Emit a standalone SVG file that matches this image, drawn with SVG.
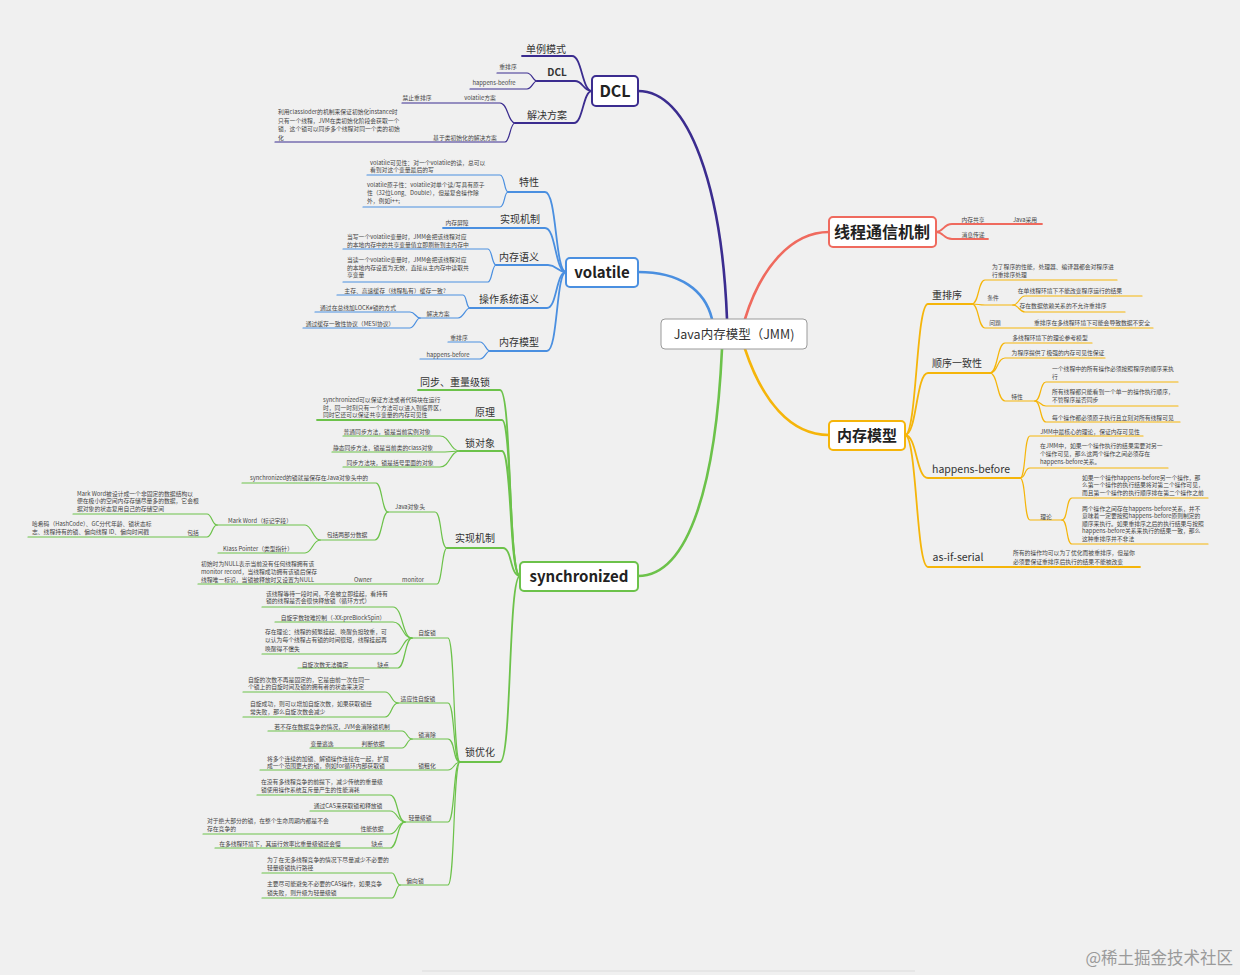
<svg xmlns="http://www.w3.org/2000/svg" width="1240" height="975" viewBox="0 0 1240 975">
<style>
text{font-family:"Noto Sans CJK SC","Noto Sans",sans-serif;}
.t1{font-size:15px;font-weight:bold;fill:#222;text-anchor:middle}
.t2{font-size:10px;fill:#333;text-anchor:middle}
.t3{font-size:5.8px;fill:#444}
.c{text-anchor:middle}
.box{fill:#fff;stroke-width:2}
path{fill:none;stroke-linecap:round}
.l1{stroke-width:2.6}
.l2{stroke-width:1.8}
.l3{stroke-width:1.2}
.pu{stroke:#3b2c8f}.bl{stroke:#4a8fe0}.rd{stroke:#ef6a5e}.or{stroke:#f5b50a}.gr{stroke:#6cc24a}
</style>
<rect width="1240" height="975" fill="#f0f0f0"/>
<line x1="422" y1="971" x2="915" y2="971" stroke="#dcdcdc" stroke-width="1"/>
<g id="connectors">
<path class="l1 pu" d="M727 319 C722 190 690 91 638 91"/>
<path class="l1 bl" d="M712 319 C705 290 680 272 638 272"/>
<path class="l1 rd" d="M745 319 C760 270 790 232 829 232"/>
<path class="l1 or" d="M745 349 C762 400 790 435 829 435"/>
<path class="l1 gr" d="M722 349 C716 480 690 576 638 576"/>
<g class="pu">
<path class="l2" d="M522 56 H572 C582 56 582 91 592 91"/>
<path class="l2" d="M537 81 H575 C583 81 583 91 592 91"/>
<path class="l2" d="M515 123 H574 C583 123 583 91 592 91"/>
<path class="l3" d="M497 73 H527 C532 73 533 81 537 81"/>
<path class="l3" d="M470 89 H527 C532 89 533 81 537 81"/>
<path class="l3" d="M402 103 H500 C508 103 508 123 515 123"/>
<path class="l3" d="M275 142 H505 C510 142 510 123 515 123"/>
</g>
<g class="bl">
<path class="l2" d="M508 192 H545 C557 192 555 272 566 272"/>
<path class="l2" d="M443 228 H545 C556 228 555 272 566 272"/>
<path class="l2" d="M496 265 H548 C557 265 557 272 566 272"/>
<path class="l2" d="M470 308 H547 C557 308 556 272 566 272"/>
<path class="l2" d="M490 351 H547 C558 351 556 272 566 272"/>
<path class="l3" d="M367 175 H500 C505 175 504 192 508 192"/>
<path class="l3" d="M363 207 H500 C505 207 504 192 508 192"/>
<path class="l3" d="M343 249 H488 C492 249 492 265 496 265"/>
<path class="l3" d="M343 282 H488 C492 282 492 265 496 265"/>
<path class="l3" d="M337 295 H463 C467 295 466 308 470 308"/>
<path class="l3" d="M420 318 H458 C464 318 465 308 470 308"/>
<path class="l3" d="M315 312 H410 C415 312 416 318 420 318"/>
<path class="l3" d="M303 328 H410 C415 328 416 318 420 318"/>
<path class="l3" d="M448 342 H480 C485 342 486 351 490 351"/>
<path class="l3" d="M420 359 H480 C485 359 486 351 490 351"/>
</g>
<g class="rd">
<path class="l2" d="M936 232 C944 232 943 224 952 224 H1042"/>
<path class="l2" d="M936 232 C944 232 943 239 952 239 H988"/>
</g>
<g class="or">
<path class="l2" d="M905 435 C917 435 916 304 928 304 H972"/>
<path class="l2" d="M905 435 C917 435 916 373 928 373 H990"/>
<path class="l2" d="M905 435 C917 435 916 478 928 478 H1020"/>
<path class="l2" d="M905 435 C917 435 916 567 928 567 H1140"/>
<path class="l3" d="M972 304 C979 304 978 280 985 280 H1117"/>
<path class="l3" d="M972 304 C979 304 978 305 985 305 H1013"/>
<path class="l3" d="M972 304 C979 304 978 328 985 328 H1153"/>
<path class="l3" d="M1013 305 C1019 305 1019 296 1025 296 H1142"/>
<path class="l3" d="M1013 305 C1019 305 1019 312 1025 312 H1125"/>
<path class="l3" d="M990 373 C998 373 997 343 1005 343 H1092"/>
<path class="l3" d="M990 373 C998 373 997 358 1005 358 H1105"/>
<path class="l3" d="M990 373 C998 373 997 401 1005 401 H1035"/>
<path class="l3" d="M1035 401 C1041 401 1040 382 1046 382 H1178"/>
<path class="l3" d="M1035 401 C1041 401 1040 406 1046 406 H1178"/>
<path class="l3" d="M1035 401 C1041 401 1040 422 1046 422 H1180"/>
<path class="l3" d="M1020 478 C1026 478 1024 436 1030 436 H1143"/>
<path class="l3" d="M1020 478 C1026 478 1024 468 1030 468 H1168"/>
<path class="l3" d="M1020 478 C1026 478 1024 520 1030 520 H1062"/>
<path class="l3" d="M1062 520 C1068 520 1066 498 1072 498 H1208"/>
<path class="l3" d="M1062 520 C1068 520 1066 544 1072 544 H1208"/>
</g>
<g class="gr">
<path class="l2" d="M418 390 H500 C512 390 508 576 520 576"/>
<path class="l2" d="M317 420 H502 C512 420 509 576 520 576"/>
<path class="l2" d="M460 451 H502 C512 451 509 576 520 576"/>
<path class="l2" d="M447 548 H503 C512 548 510 576 520 576"/>
<path class="l2" d="M460 762 H500 C512 762 508 576 520 576"/>
<path class="l3" d="M343 436 H440 C450 436 450 451 460 451"/>
<path class="l3" d="M332 452 H445 C452 452 452 451 460 451"/>
<path class="l3" d="M343 467 H440 C450 467 450 451 460 451"/>
<path class="l3" d="M388 512 H435 C442 512 440 548 447 548"/>
<path class="l3" d="M198 584 H437 C442 584 442 548 447 548"/>
<path class="l3" d="M242 483 H376 C382 483 382 512 388 512"/>
<path class="l3" d="M320 540 H375 C382 540 382 512 388 512"/>
<path class="l3" d="M217 525 H305 C312 525 313 540 320 540"/>
<path class="l3" d="M218 553 H305 C312 553 313 540 320 540"/>
<path class="l3" d="M73 514 H207 C212 514 212 525 217 525"/>
<path class="l3" d="M28 537 H207 C212 537 212 525 217 525"/>
<path class="l3" d="M412 638 H448 C455 638 453 762 460 762"/>
<path class="l3" d="M398 703 H448 C455 703 453 762 460 762"/>
<path class="l3" d="M412 739 H448 C455 739 453 762 460 762"/>
<path class="l3" d="M260 770 H448 C454 770 454 762 460 762"/>
<path class="l3" d="M405 822 H448 C455 822 453 762 460 762"/>
<path class="l3" d="M400 885 H448 C455 885 453 762 460 762"/>
<path class="l3" d="M262 607 H393 C403 607 402 638 412 638"/>
<path class="l3" d="M275 622 H393 C403 622 402 638 412 638"/>
<path class="l3" d="M262 654 H393 C403 654 402 638 412 638"/>
<path class="l3" d="M298 668 H398 C405 668 405 638 412 638"/>
<path class="l3" d="M243 692 H385 C392 692 391 703 398 703"/>
<path class="l3" d="M243 717 H385 C392 717 391 703 398 703"/>
<path class="l3" d="M268 731 H402 C407 731 407 739 412 739"/>
<path class="l3" d="M310 748 H402 C407 748 407 739 412 739"/>
<path class="l3" d="M257 795 H390 C398 795 397 822 405 822"/>
<path class="l3" d="M310 811 H390 C398 811 397 822 405 822"/>
<path class="l3" d="M203 834 H390 C398 834 397 822 405 822"/>
<path class="l3" d="M215 848 H390 C398 848 397 822 405 822"/>
<path class="l3" d="M262 873 H392 C396 873 396 885 400 885"/>
<path class="l3" d="M262 898 H392 C396 898 396 885 400 885"/>
</g>
</g>

<g id="n-center"><rect x="661" y="319" width="146" height="30" rx="4" fill="#fff" stroke="#9a9a9a" stroke-width="1"/><text x="734" y="338.5" class="c" style="font-size:12.5px;fill:#333">Java内存模型（JMM)</text></g>

<g id="n-dcl"><rect class="box" x="592" y="76" width="46" height="30" rx="4" stroke="#3b2c8f"/><text x="615" y="97" class="t1" style="font-size:16px">DCL</text></g>
<g id="n-dcl-singleton"><text x="546" y="52.5" class="t2">单例模式</text></g>
<g id="n-dcl-dcl"><text x="557" y="76" class="t2" style="font-weight:bold">DCL</text></g>
<g id="n-dcl-reorder"><text x="508" y="68.5" class="t3 c">重排序</text></g>
<g id="n-dcl-hb"><text x="494" y="85" class="t3 c">happens-beofre</text></g>
<g id="n-dcl-solution"><text x="547" y="118.5" class="t2">解决方案</text></g>
<g id="n-dcl-volatile"><text x="480" y="100" class="t3 c">volatile方案</text></g>
<g id="n-dcl-noreorder"><text x="417" y="100" class="t3 c">禁止重排序</text></g>
<g id="n-dcl-classinit"><text x="465" y="140" class="t3 c">基于类初始化的解决方案</text></g>
<g id="n-dcl-classloader"><text class="t3"><tspan x="278" y="114">利用classloder的机制来保证初始化instance时</tspan><tspan x="278" y="122.5">只有一个线程，JVM在类初始化阶段会获取一个</tspan><tspan x="278" y="131">锁，这个锁可以同步多个线程对同一个类的初始</tspan><tspan x="278" y="139.5">化</tspan></text></g>

<g id="n-volatile"><rect class="box" x="566" y="258" width="72" height="29" rx="4" stroke="#4a8fe0"/><text x="602" y="278" class="t1">volatile</text></g>
<g id="n-vol-feature"><text x="529" y="185.5" class="t2">特性</text></g>
<g id="n-vol-visible"><text class="t3"><tspan x="370" y="165.3">volatile可见性：对一个volatile的读，总可以</tspan><tspan x="370" y="172">看到对这个变量最后的写</tspan></text></g>
<g id="n-vol-atomic"><text class="t3"><tspan x="367" y="187">volatile原子性：volatile对单个读/写具有原子</tspan><tspan x="367" y="195">性（32位Long、Double），但是复合操作除</tspan><tspan x="367" y="203">外，例如i++;</tspan></text></g>
<g id="n-vol-impl"><text x="520" y="222.5" class="t2">实现机制</text></g>
<g id="n-vol-barrier"><text x="457" y="224.5" class="t3 c">内存屏障</text></g>
<g id="n-vol-semantic"><text x="519" y="260.5" class="t2">内存语义</text></g>
<g id="n-vol-write"><text class="t3"><tspan x="347" y="239.3">当写一个volatile变量时，JMM会把该线程对应</tspan><tspan x="347" y="246.5">的本地内存中的共享变量值立即刷新到主内存中</tspan></text></g>
<g id="n-vol-read"><text class="t3"><tspan x="347" y="262">当读一个volatile变量时，JMM会把该线程对应</tspan><tspan x="347" y="269.5">的本地内存设置为无效，直接从主内存中读取共</tspan><tspan x="347" y="277">享变量</tspan></text></g>
<g id="n-vol-os"><text x="509" y="302.5" class="t2">操作系统语义</text></g>
<g id="n-vol-cache"><text x="395" y="293" class="t3 c">主存、高速缓存（线程私有）缓存一致?</text></g>
<g id="n-vol-solve"><text x="438" y="316" class="t3 c">解决方案</text></g>
<g id="n-vol-lock"><text x="358" y="309.5" class="t3 c">通过在总线加LOCK#锁的方式</text></g>
<g id="n-vol-mesi"><text x="350" y="325.5" class="t3 c">通过缓存一致性协议（MESI协议）</text></g>
<g id="n-vol-model"><text x="519" y="345.5" class="t2">内存模型</text></g>
<g id="n-vol-reorder"><text x="459" y="340" class="t3 c">重排序</text></g>
<g id="n-vol-hb"><text x="448" y="356.5" class="t3 c">happens-before</text></g>

<g id="n-comm"><rect class="box" x="829" y="217" width="107" height="30" rx="4" stroke="#ef6a5e"/><text x="882" y="238" class="t1" style="font-size:16px">线程通信机制</text></g>
<g id="n-comm-share"><text x="973" y="221.5" class="t3 c">内存共享</text></g>
<g id="n-comm-java"><text x="1025" y="221.5" class="t3 c">Java采用</text></g>
<g id="n-comm-msg"><text x="973" y="236.5" class="t3 c">消息传递</text></g>

<g id="n-jmm"><rect class="box" x="829" y="421" width="76" height="29" rx="4" stroke="#f5b50a"/><text x="867" y="441" class="t1">内存模型</text></g>
<g id="n-jmm-reorder"><text x="947" y="298.5" class="t2">重排序</text></g>
<g id="n-jmm-reorder-why"><text class="t3"><tspan x="992" y="269">为了程序的性能，处理器、编译器都会对程序进</tspan><tspan x="992" y="277">行重排序处理</tspan></text></g>
<g id="n-jmm-cond"><text x="993" y="299.5" class="t3 c">条件</text></g>
<g id="n-jmm-cond1"><text x="1070" y="292.5" class="t3 c">在单线程环境下不能改变程序运行的结果</text></g>
<g id="n-jmm-cond2"><text x="1063" y="308" class="t3 c">存在数据依赖关系的不允许重排序</text></g>
<g id="n-jmm-problem"><text x="995" y="324.5" class="t3 c">问题</text></g>
<g id="n-jmm-problem1"><text x="1092" y="324.5" class="t3 c">重排序在多线程环境下可能会导致数据不安全</text></g>
<g id="n-jmm-seq"><text x="957" y="366.5" class="t2">顺序一致性</text></g>
<g id="n-jmm-seq1"><text x="1050" y="339.5" class="t3 c">多线程环境下的理论参考模型</text></g>
<g id="n-jmm-seq2"><text x="1058" y="355" class="t3 c">为程序提供了极强的内存可见性保证</text></g>
<g id="n-jmm-seqfeat"><text x="1017" y="398.5" class="t3 c">特性</text></g>
<g id="n-jmm-seqf1"><text class="t3"><tspan x="1052" y="370.5">一个线程中的所有操作必须按照程序的顺序来执</tspan><tspan x="1052" y="378.5">行</tspan></text></g>
<g id="n-jmm-seqf2"><text class="t3"><tspan x="1052" y="394">所有线程都只能看到一个单一的操作执行顺序，</tspan><tspan x="1052" y="402">不管程序是否同步</tspan></text></g>
<g id="n-jmm-seqf3"><text class="t3"><tspan x="1052" y="419.5">每个操作都必须原子执行且立刻对所有线程可见</tspan></text></g>
<g id="n-jmm-hb"><text x="971" y="473" class="t2" style="font-size:10.5px">happens-before</text></g>
<g id="n-jmm-hb1"><text x="1090" y="433.5" class="t3 c">JMM中最核心的理论，保证内存可见性</text></g>
<g id="n-jmm-hb2"><text class="t3"><tspan x="1040" y="448">在JMM中，如果一个操作执行的结果需要对另一</tspan><tspan x="1040" y="456">个操作可见，那么这两个操作之间必须存在</tspan><tspan x="1040" y="464">happens-before关系。</tspan></text></g>
<g id="n-jmm-theory"><text x="1046" y="518.5" class="t3 c">理论</text></g>
<g id="n-jmm-theory1"><text class="t3"><tspan x="1082" y="479.5">如果一个操作happens-before另一个操作，那</tspan><tspan x="1082" y="487">么第一个操作的执行结果将对第二个操作可见，</tspan><tspan x="1082" y="495">而且第一个操作的执行顺序排在第二个操作之前</tspan></text></g>
<g id="n-jmm-theory2"><text class="t3"><tspan x="1082" y="510.5">两个操作之间存在happens-before关系，并不</tspan><tspan x="1082" y="518">意味着一定要按照happens-before原则制定的</tspan><tspan x="1082" y="525.5">顺序来执行。如果重排序之后的执行结果与按照</tspan><tspan x="1082" y="533">happens-before关系来执行的结果一致，那么</tspan><tspan x="1082" y="540.5">这种重排序并不非法</tspan></text></g>
<g id="n-jmm-serial"><text x="958" y="561" class="t2" style="font-size:10.5px">as-if-serial</text></g>
<g id="n-jmm-serial1"><text class="t3"><tspan x="1013" y="555">所有的操作均可以为了优化而被重排序，但是你</tspan><tspan x="1013" y="564">必须要保证重排序后执行的结果不能被改变</tspan></text></g>

<g id="n-sync"><rect class="box" x="520" y="562" width="118" height="29" rx="4" stroke="#6cc24a"/><text x="579" y="582" class="t1">synchronized</text></g>
<g id="n-sync-heavy"><text x="455" y="386" class="t2">同步、重量级锁</text></g>
<g id="n-sync-principle"><text x="485" y="416" class="t2">原理</text></g>
<g id="n-sync-principle1"><text class="t3"><tspan x="323" y="402">synchronized可以保证方法或者代码块在运行</tspan><tspan x="323" y="409.7">时，同一时刻只有一个方法可以进入到临界区，</tspan><tspan x="323" y="417">同时它还可以保证共享变量的内存可见性</tspan></text></g>
<g id="n-sync-obj"><text x="480" y="447" class="t2">锁对象</text></g>
<g id="n-sync-obj1"><text x="387" y="433.5" class="t3 c">普通同步方法，锁是当前实例对象</text></g>
<g id="n-sync-obj2"><text x="383" y="449.5" class="t3 c">静态同步方法，锁是当前类的class对象</text></g>
<g id="n-sync-obj3"><text x="390" y="464.5" class="t3 c">同步方法块，锁是括号里面的对象</text></g>
<g id="n-sync-impl"><text x="475" y="542" class="t2">实现机制</text></g>
<g id="n-sync-header"><text x="410" y="508.5" class="t3 c">Java对象头</text></g>
<g id="n-sync-header1"><text x="309" y="479.5" class="t3 c">synchronized的锁就是保存在Java对象头中的</text></g>
<g id="n-sync-two"><text x="347" y="536.5" class="t3 c">包括两部分数据</text></g>
<g id="n-sync-mark"><text x="260" y="523" class="t3 c">Mark Word（标记字段）</text></g>
<g id="n-sync-mark1"><text class="t3"><tspan x="77" y="495.5">Mark Word被设计成一个非固定的数据结构以</tspan><tspan x="77" y="503">便在极小的空间内存存储尽量多的数据，它会根</tspan><tspan x="77" y="510.5">据对象的状态复用自己的存储空间</tspan></text></g>
<g id="n-sync-incl"><text x="193" y="534.5" class="t3 c">包括</text></g>
<g id="n-sync-incl1"><text class="t3"><tspan x="32" y="525.5">哈希码（HashCode）、GC分代年龄、锁状态标</tspan><tspan x="32" y="534">志、线程持有的锁、偏向线程 ID、偏向时间戳</tspan></text></g>
<g id="n-sync-klass"><text x="258" y="550.5" class="t3 c">Klass Pointer（类型指针）</text></g>
<g id="n-sync-monitor"><text x="413" y="581.5" class="t3 c">monitor</text></g>
<g id="n-sync-owner"><text x="363" y="581.5" class="t3 c">Owner</text></g>
<g id="n-sync-owner1"><text class="t3"><tspan x="201" y="566">初始时为NULL表示当前没有任何线程拥有该</tspan><tspan x="201" y="573.5">monitor record，当线程成功拥有该锁后保存</tspan><tspan x="201" y="581.5">线程唯一标识，当锁被释放时又设置为NULL</tspan></text></g>
<g id="n-sync-opt"><text x="480" y="756" class="t2">锁优化</text></g>
<g id="n-opt-spin"><text x="427" y="634.5" class="t3 c">自旋锁</text></g>
<g id="n-opt-spin1"><text class="t3"><tspan x="266" y="595.5">该线程等待一段时间，不会被立即挂起，看持有</tspan><tspan x="266" y="602.5">锁的线程是否会很快释放锁（循环方式）</tspan></text></g>
<g id="n-opt-spin2"><text x="333" y="619.5" class="t3 c">自旋字数较难控制（-XX:preBlockSpin）</text></g>
<g id="n-opt-spin3"><text class="t3"><tspan x="265" y="634">存在理论：线程的频繁挂起、唤醒负担较重，可</tspan><tspan x="265" y="642">以认为每个线程占有锁的时间很短，线程挂起再</tspan><tspan x="265" y="650.5">唤醒得不偿失</tspan></text></g>
<g id="n-opt-spin4"><text x="383" y="666.5" class="t3 c">缺点</text></g>
<g id="n-opt-spin5"><text x="325" y="666.5" class="t3 c">自旋次数无法确定</text></g>
<g id="n-opt-adapt"><text x="418" y="700.5" class="t3 c">适应性自旋锁</text></g>
<g id="n-opt-adapt1"><text class="t3"><tspan x="248" y="681.5">自旋的次数不再是固定的，它是由前一次在同一</tspan><tspan x="248" y="689">个锁上的自旋时间及锁的拥有者的状态来决定</tspan></text></g>
<g id="n-opt-adapt2"><text class="t3"><tspan x="250" y="705.5">自旋成功，则可以增加自旋次数，如果获取锁经</tspan><tspan x="250" y="714">常失败，那么自旋次数会减少</tspan></text></g>
<g id="n-opt-elim"><text x="427" y="737" class="t3 c">锁消除</text></g>
<g id="n-opt-elim1"><text x="332" y="729" class="t3 c">若不存在数据竞争的情况，JVM会消除锁机制</text></g>
<g id="n-opt-elim2"><text x="373" y="745.5" class="t3 c">判断依据</text></g>
<g id="n-opt-elim3"><text x="322" y="745.5" class="t3 c">变量逃逸</text></g>
<g id="n-opt-coarse"><text x="427" y="768" class="t3 c">锁粗化</text></g>
<g id="n-opt-coarse1"><text class="t3"><tspan x="267" y="760.5">将多个连续的加锁、解锁操作连接在一起，扩展</tspan><tspan x="267" y="768">成一个范围更大的锁，例如for循环内部获取锁</tspan></text></g>
<g id="n-opt-light"><text x="420" y="819.5" class="t3 c">轻量级锁</text></g>
<g id="n-opt-light1"><text class="t3"><tspan x="261" y="784">在没有多线程竞争的前提下，减少传统的重量级</tspan><tspan x="261" y="792">锁使用操作系统互斥量产生的性能消耗</tspan></text></g>
<g id="n-opt-light2"><text x="348" y="807.5" class="t3 c">通过CAS来获取锁和释放锁</text></g>
<g id="n-opt-light3"><text x="372" y="831" class="t3 c">性能依据</text></g>
<g id="n-opt-light4"><text class="t3"><tspan x="207" y="822.5">对于绝大部分的锁，在整个生命周期内都是不会</tspan><tspan x="207" y="830.5">存在竞争的</tspan></text></g>
<g id="n-opt-light5"><text x="377" y="845.5" class="t3 c">缺点</text></g>
<g id="n-opt-light6"><text x="280" y="845.5" class="t3 c">在多线程环境下，其运行效率比重量级锁还会慢</text></g>
<g id="n-opt-bias"><text x="415" y="882.5" class="t3 c">偏向锁</text></g>
<g id="n-opt-bias1"><text class="t3"><tspan x="267" y="862">为了在无多线程竞争的情况下尽量减少不必要的</tspan><tspan x="267" y="870">轻量级锁执行路径</tspan></text></g>
<g id="n-opt-bias2"><text class="t3"><tspan x="267" y="886">主要尽可能避免不必要的CAS操作，如果竞争</tspan><tspan x="267" y="894.5">锁失败，则升级为轻量级锁</tspan></text></g>

<g id="watermark"><text x="1233" y="964" style="font-size:16.5px;fill:#9a9a9a;text-anchor:end">@稀土掘金技术社区</text></g>
</svg>
